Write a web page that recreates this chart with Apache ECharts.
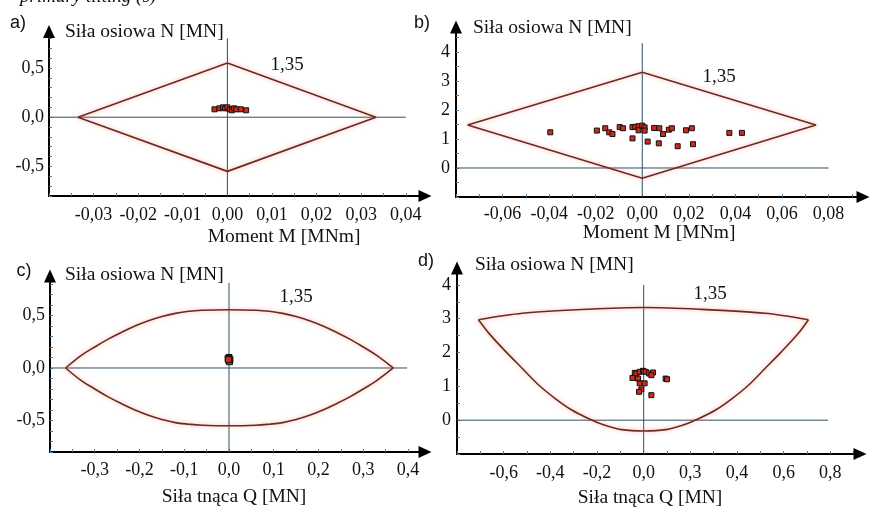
<!DOCTYPE html>
<html>
<head>
<meta charset="utf-8">
<script src="https://cdn.jsdelivr.net/npm/echarts@6/dist/echarts.min.js"></script>
<style>
html, body { margin: 0; padding: 0; background: #fff; }
#chart { width: 871px; height: 508px; }
</style>
</head>
<body>
<div id="chart"></div>
<script>
// a) N - M, interaction diamond
var diamondA = [[0, 0.55], [0.0333, 0], [0, -0.55], [-0.0335, 0], [0, 0.55]];
var pointsA = [[-0.0029, 0.08], [-0.0018, 0.09], [-0.001, 0.1], [-0.0005, 0.09], [0, 0.1], [0.0005, 0.08],
    [0.001, 0.07], [0.0015, 0.09], [0.002, 0.08], [0.003, 0.08], [0.0042, 0.07]];
var zeroVA = [[0, -0.8], [0, 0.8]];
var zeroHA = [[-0.04, 0], [0.04, 0]];
var xTickValsA = [-0.03, -0.02, -0.01, 0, 0.01, 0.02, 0.03, 0.04];
var xTickTextA = ['-0,03', '-0,02', '-0,01', '0,00', '0,01', '0,02', '0,03', '0,04'];
var yTickValsA = [-0.5, 0, 0.5];
var yTickTextA = ['-0,5', '0,0', '0,5'];

// b) N - M
var diamondB = [[0, 3.3], [0.0746, 1.48], [0, -0.35], [-0.075, 1.48], [0, 3.3]];
var pointsB = [[-0.0395, 1.23], [-0.0195, 1.29], [-0.0159, 1.37], [-0.0142, 1.23], [-0.0128, 1.17],
    [-0.0097, 1.41], [-0.0083, 1.37], [-0.0042, 1.41], [-0.0042, 1.02], [-0.003, 1.42], [-0.0016, 1.44],
    [-0.0016, 1.3], [0, 1.46], [0.001, 1.4], [0.001, 1.29], [0.0023, 0.91], [0.0051, 1.38], [0.0073, 1.37],
    [0.0071, 0.85], [0.0089, 1.17], [0.0114, 1.32], [0.0127, 1.37], [0.0152, 0.75], [0.0188, 1.3],
    [0.0213, 1.37], [0.0218, 0.82], [0.0374, 1.21], [0.0428, 1.21]];
var zeroVB = [[0, -1], [0, 4.3]];
var zeroHB = [[-0.08, 0], [0.08, 0]];
var xTickValsB = [-0.06, -0.04, -0.02, 0, 0.02, 0.04, 0.06, 0.08];
var xTickTextB = ['-0,06', '-0,04', '-0,02', '0,00', '0,02', '0,04', '0,06', '0,08'];
var yTickValsB = [0, 1, 2, 3, 4];
var yTickTextB = ['0', '1', '2', '3', '4'];

// c) N - Q, lens
var upperC = [[-0.365, 0], [-0.33, 0.12], [-0.3, 0.2], [-0.27, 0.275], [-0.24, 0.34], [-0.21, 0.4],
    [-0.18, 0.45], [-0.15, 0.49], [-0.12, 0.52], [-0.09, 0.54], [-0.06, 0.55], [0, 0.555], [0.06, 0.55],
    [0.09, 0.54], [0.12, 0.52], [0.15, 0.49], [0.18, 0.45], [0.21, 0.4], [0.24, 0.34], [0.27, 0.275],
    [0.3, 0.2], [0.33, 0.12], [0.367, 0]];
var lowerC = [[-0.365, 0], [-0.33, -0.12], [-0.3, -0.2], [-0.27, -0.275], [-0.24, -0.34], [-0.21, -0.4],
    [-0.18, -0.45], [-0.15, -0.49], [-0.12, -0.52], [-0.09, -0.535], [-0.06, -0.545], [0, -0.55],
    [0.06, -0.545], [0.09, -0.535], [0.12, -0.52], [0.15, -0.49], [0.18, -0.45], [0.21, -0.4], [0.24, -0.34],
    [0.27, -0.275], [0.3, -0.2], [0.33, -0.12], [0.367, 0]];
var pointsC = [[0, 0.1], [-0.002, 0.09], [0.002, 0.08], [0, 0.07], [0.001, 0.06], [-0.001, 0.08]];
var zeroVC = [[0, -0.8], [0, 0.81]];
var zeroHC = [[-0.4, 0], [0.398, 0]];
var xTickValsC = [-0.3, -0.2, -0.1, 0, 0.1, 0.2, 0.3, 0.4];
var xTickTextC = ['-0,3', '-0,2', '-0,1', '0,0', '0,1', '0,2', '0,3', '0,4'];
var yTickValsC = [-0.5, 0, 0.5];
var yTickTextC = ['-0,5', '0,0', '0,5'];

// d) N - Q
var upperD = [[-0.708, 2.97], [-0.52, 3.16], [-0.237, 3.28], [0, 3.33], [0.237, 3.28], [0.52, 3.16], [0.706, 2.97]];
var lowerD = [[-0.708, 2.97], [-0.662, 2.56], [-0.59, 2.02], [-0.52, 1.53], [-0.45, 1.04], [-0.379, 0.64],
    [-0.308, 0.3], [-0.237, 0.05], [-0.166, -0.15], [-0.095, -0.28], [0, -0.32], [0.095, -0.28], [0.166, -0.15],
    [0.237, 0.05], [0.308, 0.3], [0.379, 0.64], [0.45, 1.04], [0.52, 1.53], [0.59, 2.02], [0.662, 2.56],
    [0.706, 2.97]];
var pointsD = [[-0.048, 1.25], [-0.038, 1.4], [-0.031, 1.38], [-0.017, 1.43], [-0.003, 1.46], [0, 1.44],
    [0.009, 1.43], [0.023, 1.38], [0.04, 1.41], [0.033, 1.33], [-0.024, 1.23], [-0.017, 1.09], [0.004, 1.09],
    [-0.01, 0.91], [-0.02, 0.84], [0.033, 0.74], [0.094, 1.23], [0.1, 1.21]];
var zeroVD = [[0, -1], [0, 4.0]];
var zeroHD = [[-0.8, 0], [0.79, 0]];
var xTickValsD = [-0.6, -0.4, -0.2, 0, 0.2, 0.4, 0.6, 0.8];
var xTickTextD = ['-0,6', '-0,4', '-0,2', '0,0', '0,3', '0,4', '0,6', '0,8'];
var yTickValsD = [0, 1, 2, 3, 4];
var yTickTextD = ['0', '1', '2', '3', '4'];

var serif = '"Liberation Serif", "DejaVu Serif", serif';
var sans = '"Liberation Sans", Arial, sans-serif';

function tickFormatter(vals, texts) {
    return function (v) {
        for (var i = 0; i < vals.length; i++) {
            if (Math.abs(v - vals[i]) < 1e-6) return texts[i];
        }
        return '';
    };
}

function makeAxis(gridIndex, min, max, interval, vals, texts, margin) {
    return {
        type: 'value',
        gridIndex: gridIndex,
        min: min,
        max: max,
        interval: interval,
        axisLine: {
            onZero: false,
            lineStyle: { color: '#000', width: 2 },
            symbol: ['none', 'triangle'],
            symbolSize: [12, 13]
        },
        axisTick: { inside: true, length: 3, lineStyle: { color: '#4a7fa8', width: 1 } },
        axisLabel: {
            formatter: tickFormatter(vals, texts),
            margin: margin,
            color: '#111',
            fontFamily: serif,
            fontSize: 18
        },
        splitLine: { show: false }
    };
}

function guideLine(i, data) {
    return {
        type: 'line', xAxisIndex: i, yAxisIndex: i, data: data, symbol: 'none', silent: true,
        lineStyle: { color: '#2f5062', width: 1 }, z: 2
    };
}

function shapeLine(i, data, smooth) {
    return {
        type: 'line', xAxisIndex: i, yAxisIndex: i, data: data, symbol: 'none', silent: true,
        smooth: smooth,
        lineStyle: { color: '#6e2a20', width: 1.6, shadowBlur: 4, shadowColor: 'rgba(240,120,100,0.6)' },
        z: 3
    };
}

function marks(i, data, size) {
    return {
        type: 'scatter', xAxisIndex: i, yAxisIndex: i, data: data, symbol: 'rect', symbolSize: size,
        itemStyle: { color: '#d02a1c', borderColor: '#111', borderWidth: 1, opacity: 1 },
        z: 5
    };
}

function txt(text, x, y, font, align) {
    return {
        type: 'text', x: x, y: y, silent: true,
        style: { text: text, font: font, fill: '#111', align: align || 'center', verticalAlign: 'middle' }
    };
}

var chart = echarts.init(document.getElementById('chart'), null, { renderer: 'canvas' });

var option = {
    animation: false,
    backgroundColor: '#fff',
    grid: [
        { left: 49, top: 31.5, width: 376, height: 164.5 },
        { left: 456, top: 27, width: 407, height: 170 },
        { left: 50, top: 276, width: 375, height: 176 },
        { left: 457, top: 268, width: 403, height: 186 }
    ],
    xAxis: [
        makeAxis(0, -0.04, 0.0443, 0.005, xTickValsA, xTickTextA, 10),
        makeAxis(1, -0.08, 0.0948, 0.01, xTickValsB, xTickTextB, 8),
        makeAxis(2, -0.4, 0.438, 0.05, xTickValsC, xTickTextC, 9),
        makeAxis(3, -0.8, 0.927, 0.1, xTickValsD, xTickTextD, 10)
    ],
    yAxis: [
        makeAxis(0, -0.8, 0.87, 0.1, yTickValsA, yTickTextA, 5),
        makeAxis(1, -1, 4.86, 0.5, yTickValsB, yTickTextB, 6),
        makeAxis(2, -0.8, 0.876, 0.1, yTickValsC, yTickTextC, 5),
        makeAxis(3, -1, 4.5, 0.5, yTickValsD, yTickTextD, 6)
    ],
    series: [
        guideLine(0, zeroVA), guideLine(0, zeroHA), shapeLine(0, diamondA, false), marks(0, pointsA, 5),
        guideLine(1, zeroVB), guideLine(1, zeroHB), shapeLine(1, diamondB, false), marks(1, pointsB, 5),
        guideLine(2, zeroVC), guideLine(2, zeroHC), shapeLine(2, upperC, 0.4), shapeLine(2, lowerC, 0.4),
        marks(2, pointsC, 6),
        guideLine(3, zeroVD), guideLine(3, zeroHD), shapeLine(3, upperD, 0.3), shapeLine(3, lowerD, 0.3),
        marks(3, pointsD, 5)
    ],
    graphic: [
        txt('primary tilting (s)', 20, -3, 'italic 19px ' + serif, 'left'),
        txt('a)', 18, 23, '18px ' + sans),
        txt('b)', 422, 23, '18px ' + sans),
        txt('c)', 24, 271, '18px ' + sans),
        txt('d)', 426, 261, '18px ' + sans),
        txt('Siła osiowa N [MN]', 65, 32, '19.5px ' + serif, 'left'),
        txt('Siła osiowa N [MN]', 473, 28, '19.5px ' + serif, 'left'),
        txt('Siła osiowa N [MN]', 65, 275, '19.5px ' + serif, 'left'),
        txt('Siła osiowa N [MN]', 475, 265, '19.5px ' + serif, 'left'),
        txt('1,35', 287, 65, '19px ' + serif),
        txt('1,35', 719, 77, '19px ' + serif),
        txt('1,35', 296, 297, '19px ' + serif),
        txt('1,35', 710, 294, '19px ' + serif),
        txt('Moment M [MNm]', 284, 237, '19.5px ' + serif),
        txt('Moment M [MNm]', 659, 233, '19.5px ' + serif),
        txt('Siła tnąca Q [MN]', 234, 497, '19.5px ' + serif),
        txt('Siła tnąca Q [MN]', 650, 498, '19.5px ' + serif)
    ]
};
chart.setOption(option);
</script>
</body>
</html>
